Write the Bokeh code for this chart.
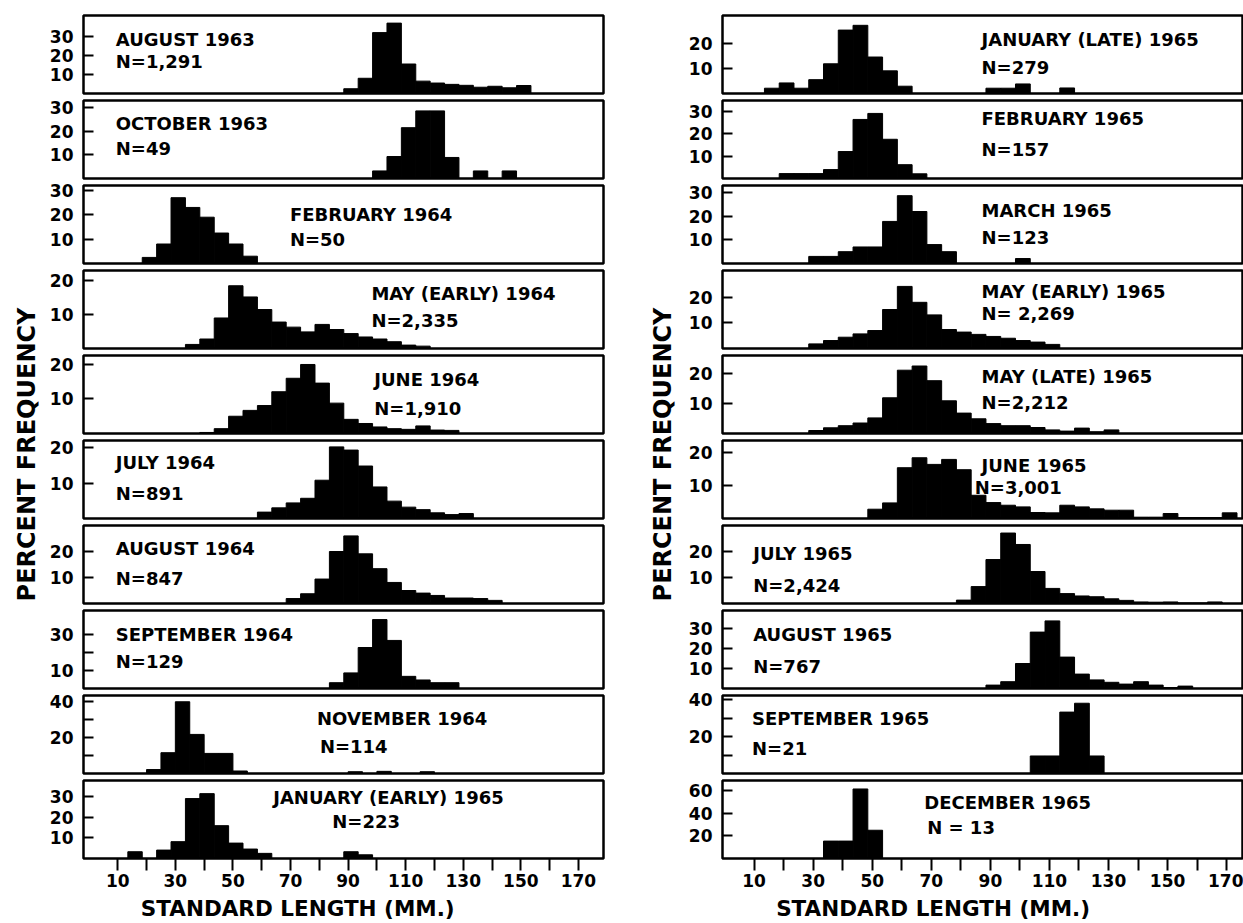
import numpy as np
from math import pi
from bokeh.plotting import figure
from bokeh.models import Range1d, FixedTicker, Label
from bokeh.layouts import row, column
from bokeh.embed import file_html
from bokeh.resources import INLINE

BIN_WIDTH = 5  # mm class interval

# ---------------- data: left column ----------------
left_titles = ["AUGUST 1963", "OCTOBER 1963", "FEBRUARY 1964", "MAY (EARLY) 1964", "JUNE 1964",
               "JULY 1964", "AUGUST 1964", "SEPTEMBER 1964", "NOVEMBER 1964", "JANUARY (EARLY) 1965"]
left_counts = ["N=1,291", "N=49", "N=50", "N=2,335", "N=1,910",
               "N=891", "N=847", "N=129", "N=114", "N=223"]
left_bin_starts = [88.5, 98.5, 18.5, 33.5, 38.5, 58.5, 68.5, 83.5, 20.0, 13.5]
aug_1963 = [2.5, 8, 32, 37, 15.5, 6.5, 5.5, 4.8, 4.3, 3.3, 3.8, 3.0, 4.2]
oct_1963 = [3.2, 9.3, 21.5, 28.6, 28.6, 8.9, 0, 3.2, 0, 3.2]
feb_1964 = [2.5, 8, 27, 23, 19, 12.5, 8, 3]
may_early_1964 = [1.2, 2.8, 9, 18.5, 15.2, 11.5, 7.8, 6.3, 4.9, 7.1, 5.6, 4.4, 3.4, 2.8, 2.0, 1.0, 0.7]
jun_1964 = [0.3, 1.4, 5.0, 6.7, 8.1, 12.1, 16, 20, 14.6, 8.8, 4.1, 2.9, 1.9, 1.4, 1.2, 2.2, 1.0, 0.9]
jul_1964 = [1.8, 3.0, 4.4, 5.7, 10.8, 20.2, 19.3, 14.8, 8.9, 4.9, 3.2, 2.5, 1.6, 1.1, 1.4]
aug_1964 = [1.9, 3.75, 9.4, 20, 26, 19.1, 13.4, 8.1, 5, 4, 3.1, 2.1, 2.1, 1.9, 1.2]
sep_1964 = [3.2, 8.6, 22.6, 38, 26.5, 6.7, 4.7, 3.2, 3.2]
nov_1964 = [2.2, 11.6, 40, 21.8, 11.2, 11.2, 1.4, 0, 0, 0, 0, 0, 0, 0, 1.0, 0, 1.2, 0, 0, 1.0]
jan_early_1965 = [3.3, 0, 4.1, 8.2, 29.2, 31.6, 16, 7.5, 4.6, 2.5, 0, 0, 0, 0, 0, 3.3, 1.8]
left_series = [aug_1963, oct_1963, feb_1964, may_early_1964, jun_1964,
               jul_1964, aug_1964, sep_1964, nov_1964, jan_early_1965]
left_ymax = [41, 33, 32, 23, 22.6, 22, 30, 43, 43.5, 38]
left_yticks = [[10, 20, 30], [10, 20, 30], [10, 20, 30], [10, 20], [10, 20],
               [10, 20], [10, 20], [10, 30], [20, 40], [10, 20, 30]]
left_yminor = [[], [], [], [], [], [], [], [20], [10, 30], []]

# ---------------- data: right column ----------------
right_titles = ["JANUARY (LATE) 1965", "FEBRUARY 1965", "MARCH 1965", "MAY (EARLY) 1965", "MAY (LATE) 1965",
                "JUNE 1965", "JULY 1965", "AUGUST 1965", "SEPTEMBER 1965", "DECEMBER 1965"]
right_counts = ["N=279", "N=157", "N=123", "N= 2,269", "N=2,212",
                "N=3,001", "N=2,424", "N=767", "N=21", "N = 13"]
right_bin_starts = [13.5, 18.5, 28.5, 28.5, 28.5, 48.5, 78.5, 88.5, 103.5, 33.5]
jan_late_1965 = [2.1, 4.2, 2.1, 5.5, 11.8, 25.2, 27.1, 14.5, 9, 2.9, 0, 0, 0, 0, 0, 2.1, 2.1, 3.8, 0, 0, 2.2]
feb_1965 = [2.2, 2.2, 2.2, 4, 12.1, 26.5, 29.2, 17.6, 6.2, 2.1]
mar_1965 = [3, 3, 5, 7, 7, 17.8, 28.7, 22, 8, 5, 0, 0, 0, 0, 2.1]
may_early_1965 = [1.8, 3.1, 4.4, 5.7, 7, 15.2, 24.2, 18, 13.1, 7.4, 6.4, 5.5, 4.7, 4.0, 3.1, 2.5, 1.6]
may_late_1965 = [1.0, 1.9, 2.6, 3.5, 5.2, 11.9, 21.1, 22.5, 17.6, 10.9, 6.8, 4.9, 3.3, 2.6, 2.6, 2.0, 1.2,
                 0.8, 1.8, 0.6, 1.2]
jun_1965 = [2.8, 4.7, 15.3, 18.3, 16.3, 17.8, 14.7, 7, 4.8, 4.0, 3.5, 1.8, 1.7, 4.0, 3.5, 2.9, 2.5, 2.5,
            0.4, 0.4, 1.5, 0.3, 0.3, 0.3, 1.7]
jul_1965 = [1.3, 6.5, 16.9, 27.1, 22.7, 12.3, 5.8, 3.8, 2.9, 2.6, 1.8, 1.2, 0.6, 0.5, 0.6, 0.2, 0.2, 0.6]
aug_1965 = [1.7, 3.4, 12.5, 28.2, 33.8, 15.7, 7.2, 4.3, 3.1, 2.2, 3.4, 1.7, 0.5, 1.2]
sep_1965 = [9.5, 9.5, 33.3, 38.1, 9.5]
dec_1965 = [15.4, 15.4, 61.5, 25]
right_series = [jan_late_1965, feb_1965, mar_1965, may_early_1965, may_late_1965,
                jun_1965, jul_1965, aug_1965, sep_1965, dec_1965]
right_ymax = [31, 35, 33, 30.4, 26, 23.5, 30, 39, 42.3, 69]
right_yticks = [[10, 20], [10, 20, 30], [10, 20, 30], [10, 20], [10, 20],
                [10, 20], [10, 20], [10, 20, 30], [20, 40], [20, 40, 60]]
right_yminor = [[], [], [], [], [], [], [], [], [10, 30], []]

x_major_ticks = [10, 30, 50, 70, 90, 110, 130, 150, 170]
x_minor_ticks = [20, 40, 60, 80, 100, 120, 140, 160]
x_title = "STANDARD LENGTH (MM.)"
y_title = "PERCENT FREQUENCY"

# ---------------- layout / style (not data) ----------------
FONT = "DejaVu Sans"
FRAME_H = 78
XTITLE_H = 26
TOTAL_H = 922
left_label_x = [9.3, 9.3, 69.8, 98.1, 99.1, 9.3, 9.3, 9.3, 79.2, 64.0]
left_n_x = [9.3, 9.3, 69.8, 98.1, 99.1, 9.3, 9.3, 9.3, 80.2, 84.5]
left_label_dy = [24, 23, 29, 23, 24, 22, 23, 24, 23, 17]
left_n_dy = [46, 48, 54, 50, 53, 53, 53, 51, 51, 41]
right_label_x = [87, 87, 87, 87, 87, 87, 9.7, 9.7, 9.3, 67.6]
right_n_x = [87, 87, 87, 87, 87, 84.7, 9.7, 9.7, 9.3, 68.6]
right_label_dy = [24, 18, 25, 21, 21, 25, 28, 24, 23, 22]
right_n_dy = [52, 49, 52, 43, 47, 47, 60, 56, 53, 47]


def make_panel(i, start, heights, ymax, yt, ym, title, ntext, tx, nx, tdy, ndy,
               xr, frame_w, mb_left, mb_right):
    last = (i == 9)
    mb_top = 15 if i == 0 else 4
    mb_bottom = 38 if last else 3
    p = figure(width=mb_left + frame_w + mb_right, height=FRAME_H + mb_top + mb_bottom,
               x_range=Range1d(*xr), y_range=Range1d(0, ymax),
               x_axis_location="below" if last else None, y_axis_location="left",
               toolbar_location=None, output_backend="svg",
               min_border_left=mb_left, min_border_right=mb_right,
               min_border_top=mb_top, min_border_bottom=mb_bottom)
    p.xgrid.grid_line_color = None
    p.ygrid.grid_line_color = None
    p.outline_line_color = "black"
    p.outline_line_width = 2.5
    h = np.array(heights, dtype=float)
    left = start + BIN_WIDTH * np.arange(len(h))
    keep = h > 0
    p.quad(left=left[keep], right=left[keep] + BIN_WIDTH, bottom=0, top=h[keep],
           fill_color="black", line_color="black", line_width=1)

    ya = p.yaxis[0]
    ya.ticker = FixedTicker(ticks=yt, minor_ticks=ym)
    ya.axis_line_color = None
    ya.major_tick_in = 10
    ya.major_tick_out = 0
    ya.minor_tick_in = 10
    ya.minor_tick_out = 0
    ya.major_tick_line_width = 2
    ya.minor_tick_line_width = 2
    ya.major_tick_line_color = "black"
    ya.minor_tick_line_color = "black"
    ya.major_label_standoff = 10
    ya.major_label_text_font = FONT
    ya.major_label_text_font_style = "bold"
    ya.major_label_text_font_size = "17px"
    ya.major_label_text_color = "black"

    if last:
        xa = p.xaxis[0]
        xa.ticker = FixedTicker(ticks=x_major_ticks, minor_ticks=x_minor_ticks)
        xa.axis_line_color = None
        xa.major_tick_in = 0
        xa.major_tick_out = 12
        xa.minor_tick_in = 0
        xa.minor_tick_out = 12
        xa.major_tick_line_width = 2
        xa.minor_tick_line_width = 2
        xa.major_tick_line_color = "black"
        xa.minor_tick_line_color = "black"
        xa.major_label_standoff = 3
        xa.major_label_text_font = FONT
        xa.major_label_text_font_style = "bold"
        xa.major_label_text_font_size = "17px"
        xa.major_label_text_color = "black"

    for txt, xx, dy in ((title, tx, tdy), (ntext, nx, ndy)):
        p.add_layout(Label(x=xx, y=ymax * (1 - dy / FRAME_H), text=txt,
                           text_align="left", text_baseline="middle", text_font=FONT,
                           text_font_style="bold", text_font_size="18px", text_color="black"))
    return p


def xtitle_fig(xr, frame_w, mb_left, mb_right, cx):
    p = figure(width=mb_left + frame_w + mb_right, height=XTITLE_H,
               x_range=Range1d(*xr), y_range=Range1d(0, XTITLE_H),
               x_axis_location=None, y_axis_location=None, toolbar_location=None,
               output_backend="svg", min_border_left=mb_left, min_border_right=mb_right,
               min_border_top=0, min_border_bottom=0)
    p.outline_line_color = None
    p.xgrid.grid_line_color = None
    p.ygrid.grid_line_color = None
    p.add_layout(Label(x=cx, y=XTITLE_H - 12, text=x_title,
                       text_align="center", text_baseline="middle", text_font=FONT,
                       text_font_style="bold", text_font_size="21.5px", text_color="black"))
    return p


def ytitle_fig(w, cx):
    p = figure(width=w, height=TOTAL_H, x_range=Range1d(0, w), y_range=Range1d(0, TOTAL_H),
               x_axis_location=None, y_axis_location=None, toolbar_location=None,
               output_backend="svg", min_border=0)
    p.outline_line_color = None
    p.xgrid.grid_line_color = None
    p.ygrid.grid_line_color = None
    p.add_layout(Label(x=cx, y=TOTAL_H - 454, text=y_title, angle=pi / 2,
                       text_align="center", text_baseline="middle", text_font=FONT,
                       text_font_style="bold", text_font_size="24px", text_color="black"))
    return p


LEFT_XR = (-1.9, 178.7)
RIGHT_XR = (-0.7, 175.7)
left_figs = [make_panel(i, left_bin_starts[i], left_series[i], left_ymax[i], left_yticks[i], left_yminor[i],
                        left_titles[i], left_counts[i], left_label_x[i], left_n_x[i],
                        left_label_dy[i], left_n_dy[i], LEFT_XR, 523, 34, 2)
             for i in range(10)]
left_figs.append(xtitle_fig(LEFT_XR, 523, 34, 2, 72.5))
right_figs = [make_panel(i, right_bin_starts[i], right_series[i], right_ymax[i], right_yticks[i], right_yminor[i],
                         right_titles[i], right_counts[i], right_label_x[i], right_n_x[i],
                         right_label_dy[i], right_n_dy[i], RIGHT_XR, 524, 34, 0)
              for i in range(10)]
right_figs.append(xtitle_fig(RIGHT_XR, 524, 34, 0, 70.6))

layout = row(ytitle_fig(46, 26), column(*left_figs, spacing=0),
             ytitle_fig(80, 57), column(*right_figs, spacing=0), spacing=0)

open("out.html", "w").write(file_html(layout, INLINE))
